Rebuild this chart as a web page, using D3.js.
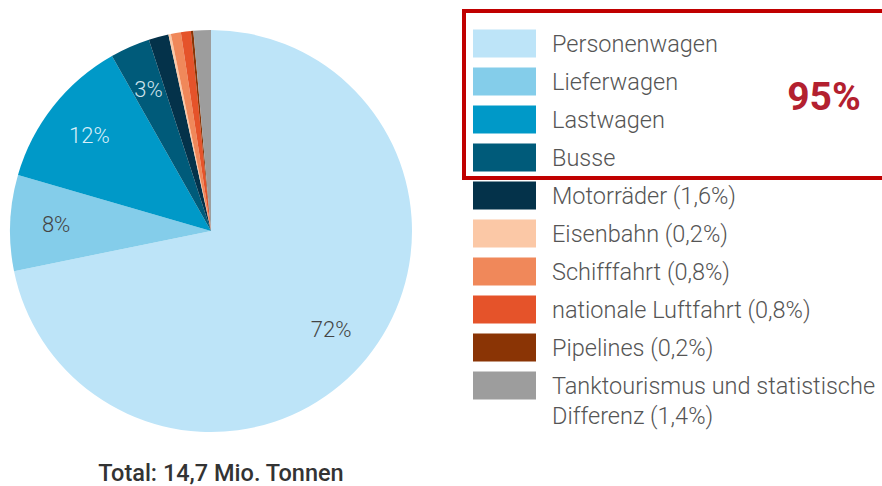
<!DOCTYPE html>
<html>
<head>
<meta charset="utf-8">
<script src="https://cdn.jsdelivr.net/npm/d3@7"></script>
<style>
  body { margin: 0; background: #fff; }
  text { font-family: Roboto, "Noto Sans", sans-serif; }
</style>
</head>
<body>
<div class="chart"></div>
<script>
// Anteile am Treibstoffverbrauch (%)
var categories = ["Personenwagen", "Lieferwagen", "Lastwagen", "Busse", "Motorräder",
                  "Eisenbahn", "Schifffahrt", "nationale Luftfahrt", "Pipelines",
                  "Tanktourismus und statistische Differenz"];
var values = [71.8, 7.7, 12.3, 3.2, 1.6, 0.2, 0.8, 0.8, 0.2, 1.4];
var sliceLabels = ["72%", "8%", "12%", "3%", "", "", "", "", "", ""];
var legendLabels = ["Personenwagen", "Lieferwagen", "Lastwagen", "Busse",
                    "Motorräder (1,6%)", "Eisenbahn (0,2%)", "Schifffahrt (0,8%)",
                    "nationale Luftfahrt (0,8%)", "Pipelines (0,2%)",
                    ["Tanktourismus und statistische", "Differenz (1,4%)"]];
var colors = ["#bde4f8", "#84cdea", "#0099c8", "#005b7a", "#04324a",
              "#fbc8a6", "#f0885a", "#e5532a", "#8a3405", "#9d9d9d"];
var labelColors = ["#444", "#444", "#d7eef9", "#cfe3ec"];
var highlightText = "95%";
var totalText = "Total: 14,7 Mio. Tonnen";

var width = 882, height = 486;
var svg = d3.select(".chart").append("svg")
    .attr("width", width)
    .attr("height", height);

var color = d3.scaleOrdinal().domain(categories).range(colors);

var pie = d3.pie().sort(null).value(function(d) { return d.value; });
var data = categories.map(function(c, i) { return {name: c, value: values[i], label: sliceLabels[i]}; });

var radius = 201;
var arc = d3.arc().innerRadius(0).outerRadius(radius);
var labelArc = d3.arc().innerRadius(155).outerRadius(155);

var g = svg.append("g").attr("transform", "translate(211,231)");

var arcs = g.selectAll(".slice")
    .data(pie(data))
    .enter().append("g")
    .attr("class", "slice");

arcs.append("path")
    .attr("d", arc)
    .attr("fill", function(d) { return color(d.data.name); });

arcs.append("text")
    .attr("transform", function(d) { return "translate(" + labelArc.centroid(d) + ")"; })
    .attr("text-anchor", "middle")
    .attr("dy", "0.35em")
    .attr("font-size", 22)
    .attr("font-weight", 300)
    .attr("fill", function(d, i) { return labelColors[i] || "#444"; })
    .text(function(d) { return d.data.label; });

svg.append("text")
    .attr("x", 221)
    .attr("y", 473)
    .attr("dy", "0.35em")
    .attr("text-anchor", "middle")
    .attr("font-size", 23.5)
    .attr("font-weight", 500)
    .attr("fill", "#333")
    .text(totalText);

// Legende
var legend = svg.append("g").attr("class", "legend");
var rowY = d3.scaleLinear().domain([0, 1]).range([43.5, 81.5]);

var rows = legend.selectAll(".row")
    .data(categories)
    .enter().append("g")
    .attr("class", "row")
    .attr("transform", function(d, i) { return "translate(0," + rowY(i) + ")"; });

rows.append("rect")
    .attr("x", 473)
    .attr("y", -14)
    .attr("width", 63)
    .attr("height", 28)
    .style("fill", function(d) { return color(d); });

rows.append("text")
    .attr("x", 552)
    .attr("dy", "0.35em")
    .attr("font-size", 23.5)
    .attr("font-weight", 300)
    .attr("fill", "#555")
    .each(function(d, i) {
      var lbl = legendLabels[i];
      var t = d3.select(this);
      if (Array.isArray(lbl)) {
        t.attr("dy", null);
        lbl.forEach(function(line, j) {
          t.append("tspan").attr("x", 552).attr("dy", j === 0 ? "0.35em" : 30).text(line);
        });
      } else {
        t.text(lbl);
      }
    });

// Markierung
svg.append("rect")
    .attr("x", 464)
    .attr("y", 11)
    .attr("width", 430)
    .attr("height", 167)
    .attr("fill", "none")
    .attr("stroke", "#c00000")
    .attr("stroke-width", 4);

svg.append("text")
    .attr("x", 824)
    .attr("y", 96)
    .attr("dy", "0.35em")
    .attr("text-anchor", "middle")
    .attr("font-size", 39)
    .attr("font-weight", 700)
    .attr("fill", "#b3202f")
    .text(highlightText);
</script>
</body>
</html>
